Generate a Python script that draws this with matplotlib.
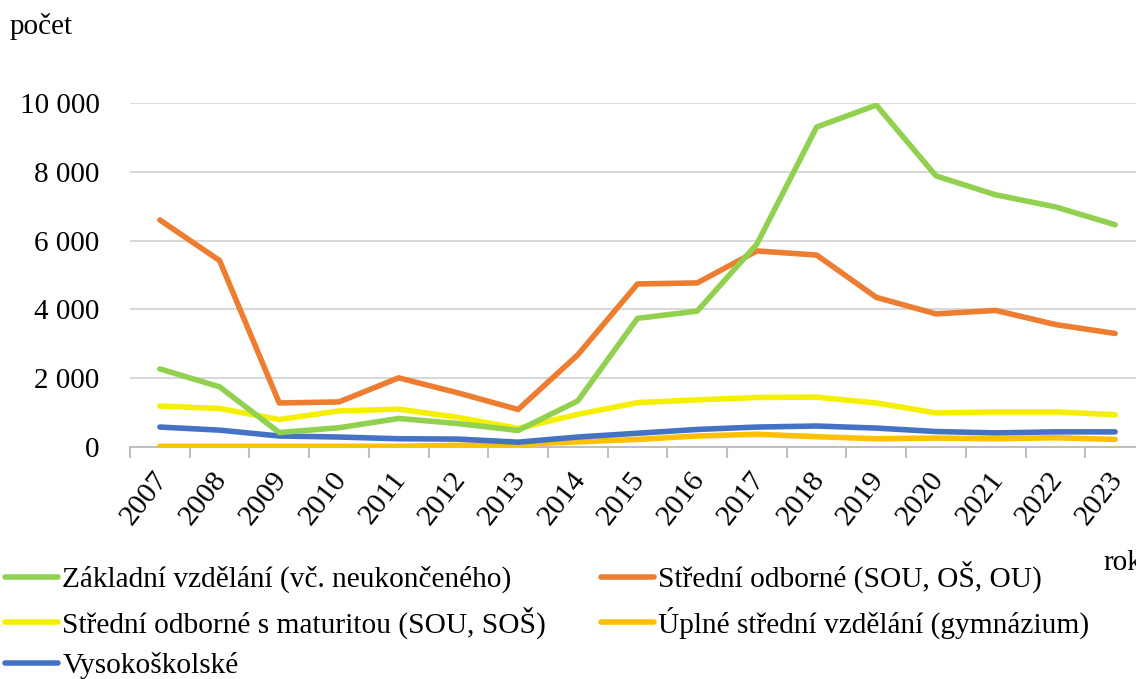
import numpy as np
import matplotlib.pyplot as plt
import matplotlib.transforms as mtransforms
from matplotlib.ticker import FuncFormatter

plt.rcParams['font.family'] = ['Liberation Serif', 'DejaVu Serif']

years = [str(y) for y in range(2007, 2024)]

# values
zakladni = [2270, 1750, 420, 560, 830, 680, 480, 1340, 3740, 3950, 5900, 9300, 9940, 7880, 7330, 6980, 6460]
stredni_odb = [6600, 5420, 1280, 1310, 2010, 1570, 1090, 2680, 4740, 4770, 5700, 5580, 4350, 3870, 3970, 3560, 3300]
stredni_mat = [1190, 1120, 800, 1050, 1100, 860, 540, 950, 1290, 1370, 1440, 1450, 1280, 990, 1020, 1020, 940]
gymnazium = [20, 20, 20, 20, 20, 50, 80, 150, 220, 320, 370, 300, 240, 260, 240, 270, 220]
vysokoskolske = [580, 490, 320, 290, 240, 230, 140, 290, 400, 510, 580, 610, 550, 450, 410, 440, 440]

series = [
    ("Základní vzdělání (vč. neukončeného)", zakladni, "#92D050"),
    ("Střední odborné (SOU, OŠ, OU)", stredni_odb, "#ED7D31"),
    ("Střední odborné s maturitou (SOU, SOŠ)", stredni_mat, "#F5F000"),
    ("Úplné střední vzdělání (gymnázium)", gymnazium, "#FFC000"),
    ("Vysokoškolské", vysokoskolske, "#4472C4"),
]

fig = plt.figure(figsize=(11.36, 6.79), dpi=100)
ax = fig.add_axes([130 / 1136, 1 - 447 / 679, 1015 / 1136, 344 / 679])

x = np.arange(len(years))
# draw in z-order like the reference (blue above gymnazium)
order = [3, 4, 2, 1, 0]
handles = {}
for i in order:
    name, vals, col = series[i]
    ln, = ax.plot(x, vals, color=col, lw=4.0, solid_capstyle='round', label=name, zorder=3)
    handles[i] = ln

ax.set_xlim(-0.5, len(years) - 0.5)
ax.set_ylim(0, 10000)
ax.set_yticks(np.arange(0, 10001, 2000))
ax.yaxis.set_major_formatter(FuncFormatter(lambda v, p: f"{int(v):,}".replace(",", " ")))
ax.grid(axis='y', color='#D9D9D9', lw=1.5)
ax.set_axisbelow(True)

ax.set_xticks(np.arange(-0.5, len(years), 1.0))
ax.set_xticklabels([])
ax.set_xticks(x, minor=True)
ax.set_xticklabels(years, minor=True, rotation=52, ha='right', va='top', fontsize=21.5)
ax.tick_params(axis='x', which='major', length=8, width=1.5, color='#BFBFBF')
ax.tick_params(axis='x', which='minor', length=0, pad=14)
ax.tick_params(axis='y', length=0, labelsize=21, pad=22)

# shift the rotated year labels a bit to the right
shift = mtransforms.ScaledTranslation(13 / 100, 0, fig.dpi_scale_trans)
for lab in ax.get_xticklabels(minor=True):
    lab.set_transform(lab.get_transform() + shift)

for s in ['top', 'right', 'left']:
    ax.spines[s].set_visible(False)
ax.spines['bottom'].set_color('#BFBFBF')
ax.spines['bottom'].set_linewidth(1.5)

fig.text(10 / 1136, 1 - 27 / 679, "počet", fontsize=21, va='center', ha='left')
fig.text(1103 / 1136, 1 - 563 / 679, "rok", fontsize=21, va='center', ha='left')

# row-wise legend order: matplotlib fills columns first
leg_order = [0, 2, 4, 1, 3]
leg = fig.legend([handles[i] for i in leg_order], [series[i][0] for i in leg_order],
                 loc='upper left', bbox_to_anchor=(5 / 1136, 1 - 561 / 679),
                 ncol=2, frameon=False, fontsize=21.2, handlelength=1.8,
                 handletextpad=0.15, columnspacing=1.85, labelspacing=0.45,
                 borderaxespad=0, borderpad=0)

fig.savefig("out.png", dpi=100)
